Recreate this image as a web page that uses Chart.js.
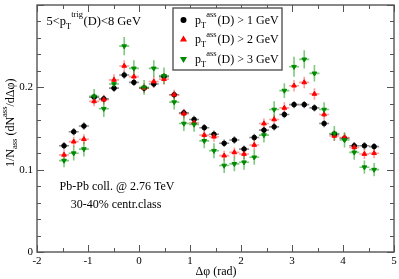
<!DOCTYPE html>
<html><head><meta charset="utf-8">
<script src="https://cdn.jsdelivr.net/npm/chart.js@4"></script>
<style>html,body{margin:0;padding:0;background:#fff}</style>
</head><body>
<canvas id="c" width="399" height="279"></canvas>
<script>
// Δφ bin centres (rad)
const dphi = [-1.47,-1.28,-1.08,-0.88,-0.69,-0.49,-0.29,-0.10,0.10,0.29,0.49,0.69,0.88,1.08,1.28,1.47,1.67,1.87,2.06,2.26,2.45,2.65,2.85,3.04,3.24,3.44,3.63,3.83,4.03,4.22,4.42,4.61];
const dphiHalfBin = 0.098;
// p_T^ass(D) > 1 GeV
const pt1 = [0.129,0.146,0.153,0.188,0.186,0.199,0.215,0.206,0.199,0.204,0.213,0.191,0.169,0.161,0.151,0.143,0.132,0.136,0.125,0.139,0.148,0.152,0.167,0.179,0.179,0.175,0.156,0.143,0.138,0.129,0.129,0.128];
const pt1Err = [0.0045,0.0045,0.0045,0.0045,0.0045,0.0045,0.0045,0.0045,0.0045,0.0045,0.0045,0.0045,0.0045,0.0045,0.0045,0.0045,0.0045,0.0045,0.0045,0.0045,0.0045,0.0045,0.0045,0.0045,0.0045,0.0045,0.0045,0.0045,0.0045,0.0045,0.0045,0.0045];
// p_T^ass(D) > 2 GeV
const pt2 = [0.118,0.134,0.137,0.183,0.185,0.209,0.226,0.213,0.199,0.207,0.210,0.191,0.168,0.157,0.142,0.140,0.117,0.121,0.119,0.130,0.156,0.161,0.175,0.202,0.206,0.192,0.167,0.141,0.139,0.127,0.119,0.120];
const pt2Err = [0.006,0.006,0.006,0.006,0.006,0.007,0.007,0.007,0.006,0.007,0.007,0.006,0.006,0.006,0.006,0.006,0.006,0.006,0.006,0.006,0.006,0.006,0.007,0.007,0.007,0.007,0.006,0.006,0.006,0.006,0.006,0.006];
// p_T^ass(D) > 3 GeV
const pt3 = [0.111,0.120,0.125,0.189,0.174,0.204,0.250,0.223,0.200,0.223,0.214,0.182,0.156,0.155,0.135,0.123,0.105,0.107,0.109,0.115,0.142,0.173,0.196,0.225,0.234,0.217,0.173,0.144,0.136,0.121,0.103,0.100];
const pt3Err = [0.008,0.009,0.009,0.009,0.010,0.009,0.011,0.010,0.009,0.010,0.010,0.009,0.009,0.009,0.009,0.009,0.009,0.009,0.009,0.009,0.009,0.010,0.009,0.012,0.011,0.010,0.009,0.009,0.009,0.009,0.008,0.008];

const xTicks = [-2,-1,0,1,2,3,4,5];
const yTicks = [0,0.1,0.2,0.3];
const yTickLabels = ['0','0.1','0.2',''];

const FONT = '"Liberation Serif","Times New Roman",serif';

const series = [
  {label:'1', vals:pt1, err:pt1Err, color:'#000000', ebar:'rgba(0,0,0,0.45)', style:'circle', r:2.3, rot:0},
  {label:'2', vals:pt2, err:pt2Err, color:'#ff0000', ebar:'rgba(255,40,40,0.45)', style:'triangle', r:2.7, rot:0},
  {label:'3', vals:pt3, err:pt3Err, color:'#008a00', ebar:'rgba(0,150,0,0.5)', style:'triangle', r:2.7, rot:180}
];

function rich(ctx, parts, x, y) {
  let cx = x;
  for (const p of parts) {
    ctx.font = p.s + 'px ' + FONT;
    ctx.fillText(p.t, cx, y + (p.dy || 0));
    cx += ctx.measureText(p.t).width + (p.gap || 0);
  }
  return cx;
}

const errorBars = {
  id: 'errorBars',
  beforeDatasetsDraw(chart) {
    const ctx = chart.ctx, xs = chart.scales.x, ys = chart.scales.y;
    ctx.save();
    ctx.lineWidth = 1.6;
    series.forEach(s => {
      ctx.strokeStyle = s.ebar;
      s.vals.forEach((v, i) => {
        const px = xs.getPixelForValue(dphi[i]);
        const py = ys.getPixelForValue(v);
        ctx.beginPath();
        ctx.moveTo(xs.getPixelForValue(dphi[i] - dphiHalfBin), py);
        ctx.lineTo(xs.getPixelForValue(dphi[i] + dphiHalfBin), py);
        ctx.moveTo(px, ys.getPixelForValue(v - s.err[i]));
        ctx.lineTo(px, ys.getPixelForValue(v + s.err[i]));
        ctx.stroke();
      });
    });
    ctx.restore();
  }
};

const frame = {
  id: 'frame',
  afterDraw(chart) {
    const ctx = chart.ctx, xs = chart.scales.x, ys = chart.scales.y;
    const a = chart.chartArea;
    ctx.save();
    ctx.strokeStyle = '#555';
    ctx.lineWidth = 1.4;
    ctx.strokeRect(a.left, a.top, a.right - a.left, a.bottom - a.top);
    ctx.lineWidth = 1;
    ctx.beginPath();
    const xt = xs.ticks.map(t => t.value);
    for (let k = 0; k < xt.length; k++) {
      const p = Math.round(xs.getPixelForValue(xt[k])) + 0.5;
      ctx.moveTo(p, a.bottom); ctx.lineTo(p, a.bottom - 7);
      ctx.moveTo(p, a.top); ctx.lineTo(p, a.top + 7);
      if (k < xt.length - 1) {
        const m = Math.round(xs.getPixelForValue((xt[k] + xt[k+1]) / 2)) + 0.5;
        ctx.moveTo(m, a.bottom); ctx.lineTo(m, a.bottom - 4);
        ctx.moveTo(m, a.top); ctx.lineTo(m, a.top + 4);
      }
    }
    const yt = ys.ticks.map(t => t.value);
    for (let k = 0; k < yt.length; k++) {
      const p = Math.round(ys.getPixelForValue(yt[k])) + 0.5;
      ctx.moveTo(a.left, p); ctx.lineTo(a.left + 7, p);
      ctx.moveTo(a.right, p); ctx.lineTo(a.right - 7, p);
      if (k < yt.length - 1) {
        for (let j = 1; j < 5; j++) {
          const m = Math.round(ys.getPixelForValue(yt[k] + (yt[k+1] - yt[k]) * j / 5)) + 0.5;
          ctx.moveTo(a.left, m); ctx.lineTo(a.left + 4, m);
          ctx.moveTo(a.right, m); ctx.lineTo(a.right - 4, m);
        }
      }
    }
    ctx.stroke();

    // legend
    ctx.fillStyle = '#fff';
    ctx.fillRect(173, 8, 109, 62);
    ctx.strokeStyle = '#555';
    ctx.lineWidth = 1.4;
    ctx.strokeRect(173, 8, 109, 62);
    const rows = [20, 39.5, 59];
    const labels = ['1', '2', '3'];
    series.forEach((s, k) => {
      ctx.fillStyle = s.color; ctx.strokeStyle = s.color;
      Chart.helpers.drawPoint(ctx, {pointStyle: s.style, radius: s.r, rotation: s.rot, borderWidth: 1}, 183.5, rows[k]);
      ctx.fillStyle = '#000';
      ctx.textBaseline = 'alphabetic';
      rich(ctx, [
        {t:'p', s:12},
        {t:'T', s:8.5, dy:4},
        {t:'ass', s:8.5, dy:-6.5, gap:1},
        {t:'(D) > ' + labels[k] + ' GeV', s:12}
      ], 195, rows[k] + 3.8);
    });

    // annotations
    ctx.fillStyle = '#000';
    rich(ctx, [
      {t:'5<p', s:12.5},
      {t:'T', s:8.5, dy:4},
      {t:'trig', s:8.5, dy:-8, gap:0.5},
      {t:'(D)<8 GeV', s:12.5}
    ], 46.5, 25);
    ctx.font = '12px ' + FONT;
    ctx.textAlign = 'center';
    ctx.fillText('Pb-Pb coll. @ 2.76 TeV', 117, 190);
    ctx.fillText('30-40% centr.class', 116, 207.5);
    ctx.fillText('\u0394\u03c6 (rad)', 216, 274.5);
    ctx.textAlign = 'left';

    // y-axis title
    ctx.save();
    ctx.translate(13.5, 167);
    ctx.rotate(-Math.PI / 2);
    rich(ctx, [
      {t:'1/N', s:12},
      {t:'ass', s:8.5, dy:3.5},
      {t:' (dN', s:12},
      {t:'ass', s:8.5, dy:-6.5},
      {t:'/d\u0394\u03c6)', s:12}
    ], 0, 0);
    ctx.restore();
    ctx.restore();
  }
};

new Chart(document.getElementById('c'), {
  type: 'scatter',
  data: {
    datasets: series.map((s, k) => ({
      label: s.label,
      data: dphi.map((x, i) => ({x: x, y: s.vals[i]})),
      pointStyle: s.style,
      pointRotation: s.rot,
      pointRadius: s.r,
      pointBackgroundColor: s.color,
      pointBorderColor: s.color,
      pointBorderWidth: 1,
      showLine: false,
      order: 2 - k
    }))
  },
  options: {
    responsive: false,
    animation: false,
    devicePixelRatio: 1,
    layout: {padding: {top: 1, right: 3, left: 0, bottom: 0}},
    plugins: {legend: {display: false}, tooltip: {enabled: false}},
    scales: {
      x: {
        type: 'linear', min: -2, max: 5,
        afterFit: s => { s.height = 27; s.paddingLeft = 0; s.paddingRight = 0; },
        afterBuildTicks: s => { s.ticks = xTicks.map(v => ({value: v})); },
        grid: {display: false, drawTicks: false},
        border: {display: false},
        ticks: {font: {family: FONT, size: 11}, color: '#000', padding: 3, maxRotation: 0,
                callback: v => String(v)}
      },
      y: {
        type: 'linear', min: 0, max: 0.3,
        afterFit: s => { s.width = 37; s.paddingTop = 0; s.paddingBottom = 0; },
        afterBuildTicks: s => { s.ticks = yTicks.map(v => ({value: v})); },
        grid: {display: false, drawTicks: false},
        border: {display: false},
        ticks: {font: {family: FONT, size: 11}, color: '#000', padding: 4,
                callback: v => { const k = yTicks.findIndex(t => Math.abs(t - v) < 1e-9); return k >= 0 ? yTickLabels[k] : ''; }}
      }
    }
  },
  plugins: [errorBars, frame]
});
</script>
</body></html>
